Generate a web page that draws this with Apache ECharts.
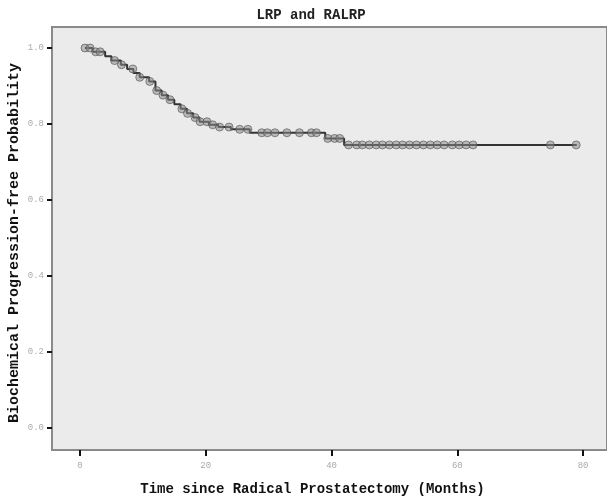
<!DOCTYPE html>
<html>
<head>
<meta charset="utf-8">
<script src="https://cdn.jsdelivr.net/npm/echarts@6/dist/echarts.min.js"></script>
<style>
html,body{margin:0;padding:0;background:#fff;}
#chart{width:607px;height:496px;}
</style>
</head>
<body>
<div id="chart"></div>
<script>
// Kaplan-Meier step curve: time of each step and survival after the step
const eventTimes = [0.8, 2, 4, 5, 6.5, 7.5, 8.5, 9.5, 11, 12, 13, 14, 15, 16, 17, 18, 19, 20.5, 22, 24, 27, 39, 42, 79];
const survival   = [1.0, 0.99, 0.978, 0.967, 0.956, 0.945, 0.934, 0.923, 0.912, 0.888, 0.876, 0.864, 0.852, 0.84, 0.828, 0.817, 0.806, 0.798, 0.792, 0.786, 0.777, 0.762, 0.745, 0.745];
// Censored observations (months)
const censorTimes = [0.8, 1.6, 2.5, 3.2, 5.5, 6.6, 8.4, 9.5, 11.1, 12.2, 13.2, 14.3, 16.2, 17.1, 18.3, 19.1, 20.2, 21.1, 22.2, 23.7, 25.4, 26.7,
  28.9, 29.8, 31.0, 32.9, 34.9, 36.8, 37.6, 39.4, 40.5, 41.3,
  42.7, 44.0, 44.9, 46.0, 47.1, 48.1, 49.2, 50.3, 51.3, 52.4, 53.5, 54.6, 55.7, 56.8, 57.9, 59.2, 60.3, 61.4, 62.5, 74.8, 78.9];
const xTicks = [0, 20, 40, 60, 80];
const yTicks = [0.0, 0.2, 0.4, 0.6, 0.8, 1.0];
const titleText = 'LRP and RALRP';
const xName = 'Time since Radical Prostatectomy (Months)';
const yName = 'Biochemical Progression-free Probability';

function survAt(t) {
  let s = survival[0];
  for (let i = 0; i < eventTimes.length; i++) { if (eventTimes[i] <= t) s = survival[i]; }
  return s;
}
const stepData = eventTimes.map((t, i) => [t, survival[i]]);
const censorData = censorTimes.map(t => [t, survAt(t)]);

const mono = '"Liberation Mono", "DejaVu Sans Mono", monospace';
const chart = echarts.init(document.getElementById('chart'), null, {renderer: 'canvas'});
chart.setOption({
  animation: false,
  backgroundColor: '#ffffff',
  title: {
    text: titleText, left: 306, top: 3, textAlign: 'center',
    textStyle: {fontFamily: mono, fontWeight: 'bold', fontSize: 14, color: '#222'}
  },
  grid: {
    left: 52, right: 0, top: 27, bottom: 46, show: true,
    outerBoundsMode: 'none', containLabel: false,
    backgroundColor: '#ebebeb', borderColor: '#8a8a8a', borderWidth: 2
  },
  xAxis: {
    type: 'value', min: -4.45, max: 83.8,
    name: xName, nameLocation: 'middle', nameGap: 32, nameMoveOverlap: false,
    nameTextStyle: {fontFamily: mono, fontWeight: 'bold', fontSize: 14, color: '#111', padding: [0, 34, 0, 0]},
    axisLine: {show: true, onZero: false, lineStyle: {color: '#8a8a8a', width: 2}},
    axisTick: {show: true, customValues: xTicks, length: 6, lineStyle: {color: '#111', width: 2}},
    axisLabel: {customValues: xTicks, margin: 11, fontFamily: mono, fontSize: 9, color: '#aaa'},
    splitLine: {show: false}
  },
  yAxis: {
    type: 'value', min: -0.0579, max: 1.0553,
    name: yName, nameLocation: 'middle', nameGap: 30, nameRotate: 90, nameMoveOverlap: false,
    nameTextStyle: {fontFamily: mono, fontWeight: 'bold', fontSize: 15, color: '#111', padding: [0, 9, 0, 0]},
    axisLine: {show: true, onZero: false, lineStyle: {color: '#8a8a8a', width: 2}},
    axisTick: {show: true, customValues: yTicks, length: 5, lineStyle: {color: '#111', width: 2}},
    axisLabel: {customValues: yTicks, margin: 8, fontFamily: mono, fontSize: 9, color: '#aaa',
      formatter: v => v.toFixed(1)},
    splitLine: {show: false}
  },
  series: [
    {
      type: 'line', step: 'end', data: stepData, symbol: 'none',
      lineStyle: {color: '#333', width: 2}, z: 2
    },
    {
      type: 'scatter', data: censorData, symbol: 'circle', symbolSize: 8,
      itemStyle: {color: 'rgba(140,140,140,0.65)', borderColor: 'rgba(80,80,80,0.8)', borderWidth: 1}, z: 3
    }
  ]
});
</script>
</body>
</html>
